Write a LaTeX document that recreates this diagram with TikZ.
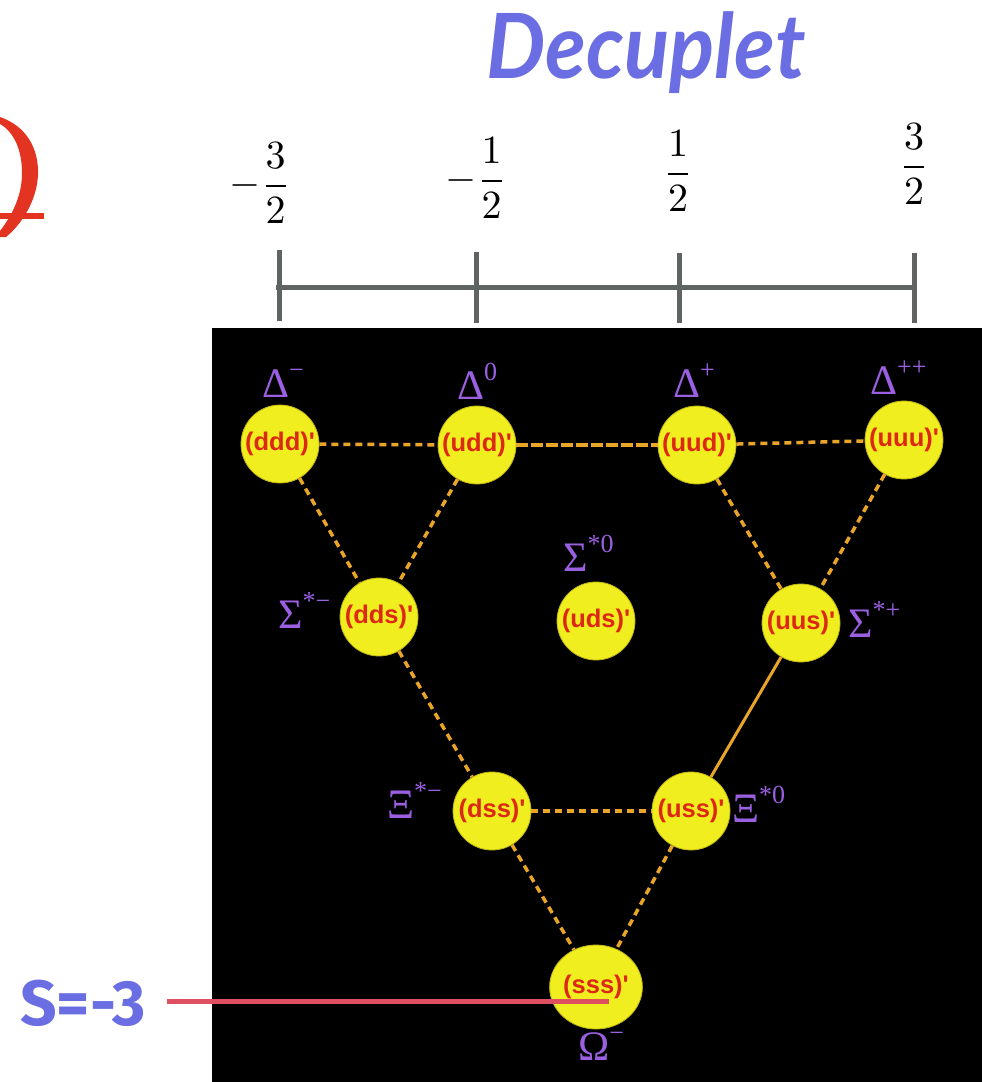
\documentclass[tikz,border=0pt]{standalone}
\usepackage{fontspec}
\usetikzlibrary{shapes.geometric}
\setmainfont{Liberation Serif}
\newfontfamily\sansb{Liberation Sans}
\newfontfamily\fira{Fira Sans}
\newfontfamily\lato{Lato}
\definecolor{blueT}{RGB}{106,110,226}
\definecolor{qred}{RGB}{220,40,20}
\definecolor{ballY}{RGB}{240,238,30}
\definecolor{ballE}{RGB}{190,180,20}
\definecolor{dashO}{RGB}{232,165,40}
\definecolor{labP}{RGB}{155,95,225}
\definecolor{axisG}{RGB}{95,100,98}
\definecolor{lineR}{RGB}{222,80,96}
\definecolor{glyphR}{RGB}{226,52,32}
\newcommand{\lab}[2]{#1\raisebox{19pt}{\fontsize{26}{26}\selectfont #2}}
\newcommand{\bigfrac}[1]{\scalebox{4}{$\displaystyle #1$}}
\tikzset{
  ball/.style={circle, minimum size=78pt, inner sep=0pt, fill=ballY, draw=ballE, line width=0.8pt,
    text=qred, font=\sansb\bfseries\fontsize{25.5}{26}\selectfont},
  hlab/.style={anchor=base west, inner sep=0pt, text=labP, font=\fontsize{42}{42}\selectfont},
  frac/.style={inner sep=0pt},
  dl/.style={draw=dashO, line width=3.5pt, dash pattern=on 7pt off 5pt},
  dlong/.style={draw=dashO, line width=3.5pt, dash pattern=on 12pt off 3pt},
  sl/.style={draw=dashO, line width=3pt},
  axisl/.style={draw=axisG, line width=5pt}
}
\begin{document}
\begin{tikzpicture}[x=1pt,y=-1pt]
\useasboundingbox (0,0) rectangle (982,1082);
% title
\node[anchor=base, inner sep=0pt, text=blueT, font=\lato\bfseries\itshape\fontsize{90}{96}\selectfont] (title) at (646,78) {\scalebox{0.93}[1]{Decuplet}};
% red partial glyph
\fill[glyphR] (0,117) .. controls (26,126) and (39,148) .. (38,175)
  .. controls (37,200) and (22,224) .. (6,237) -- (0,237) -- (0,231)
  .. controls (13,214) and (22,195) .. (22,173)
  .. controls (22,150) and (14,132) .. (0,124) -- cycle;
\fill[glyphR] (0,213) rectangle (44,219);
% axis
\coordinate (a0) at (276,287); \coordinate (a1) at (917,287);
\draw[axisl] (a0) -- (a1);
\draw[axisl] (279,250) -- (279,321);
\draw[axisl] (476,252) -- (476,323);
\draw[axisl] (679,253) -- (679,323);
\draw[axisl] (914,253) -- (914,323);
% fractions
\node[frac] (f1) at (260,183) {\bigfrac{-\frac{3}{2}}};
\node[frac] (f2) at (476,178) {\bigfrac{-\frac{1}{2}}};
\node[frac] (f3) at (678,171) {\bigfrac{\frac{1}{2}}};
\node[frac] (f4) at (914,164) {\bigfrac{\frac{3}{2}}};
% black panel
\fill[black] (212,328) rectangle (982,1082);
% balls
\node[ball] (ddd) at (280,444) {(ddd)'};
\node[ball] (udd) at (477,445) {(udd)'};
\node[ball] (uud) at (697,445) {(uud)'};
\node[ball] (uuu) at (904,440) {(uuu)'};
\node[ball] (dds) at (379,617) {(dds)'};
\node[ball] (uds) at (596,621) {(uds)'};
\node[ball] (uus) at (801,623) {(uus)'};
\node[ball] (dss) at (492,811) {(dss)'};
\node[ball] (uss) at (691,811) {(uss)'};
\node[ball, ellipse, minimum width=78pt, minimum height=84pt] (sss) at (596,987) {(sss)'};
% connectors
\draw[dl] (ddd) -- (udd);
\draw[dlong] (udd) -- (uud);
\draw[dl] (uud) -- (uuu);
\draw[dl] (ddd) -- (dds);
\draw[dl] (udd) -- (dds);
\draw[dl] (uud) -- (uus);
\draw[dl] (uuu) -- (uus);
\draw[dl] (dds) -- (dss);
\draw[sl] (uus) -- (uss);
\draw[dl] (dss) -- (uss);
\draw[dl] (dss) -- (sss);
\draw[dl] (uss) -- (sss);
% labels
\node[hlab] (lddd) at (262,397) {\lab{Δ}{−}};
\node[hlab] (ludd) at (457,399) {\lab{Δ}{0}};
\node[hlab] (luud) at (673,397) {\lab{Δ}{+}};
\node[hlab] (luuu) at (870,394) {\lab{Δ}{++}};
\node[hlab] (ldds) at (278,628) {\lab{Σ}{*−}};
\node[hlab] (luds) at (563,571) {\lab{Σ}{*0}};
\node[hlab] (luus) at (848,637) {\lab{Σ}{*+}};
\node[hlab] (ldss) at (387,818) {\lab{Ξ}{*−}};
\node[hlab] (luss) at (732,822) {\lab{Ξ}{*0}};
\node[hlab] (lsss) at (578,1060) {\lab{Ω}{−}};
% strangeness marker
\node[anchor=base, inner sep=0pt, text=blueT, font=\fira\bfseries\fontsize{64}{64}\selectfont] (S) at (83,1025) {S=-3};
\coordinate (s1) at (167,1001);
\coordinate (s2) at (609,1001);
\draw[draw=lineR, line width=5pt] (s1) -- (s2);
\end{tikzpicture}
\end{document}
